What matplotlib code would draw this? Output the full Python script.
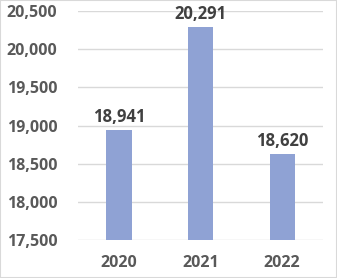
import matplotlib.pyplot as plt
from matplotlib.patches import Rectangle

years = ["2020", "2021", "2022"]
values = [18941, 20291, 18620]
y_ticks = [17500, 18000, 18500, 19000, 19500, 20000, 20500]

BAR_COLOR = "#8FA2D4"
GRID_COLOR = "#D9D9D9"
TICK_COLOR = "#595959"
LABEL_COLOR = "#404040"

plt.rcParams["font.family"] = ["Open Sans", "DejaVu Sans"]

fig = plt.figure(figsize=(3.37, 2.78), dpi=100)
ax = fig.add_axes([0.2315, 0.137, 0.727, 0.823])

x = range(len(years))
ax.bar(x, values, width=0.31, color=BAR_COLOR, zorder=2)
for xi, v in zip(x, values):
    ax.annotate(f"{v:,}", (xi, v), xytext=(0, 3), textcoords="offset points",
                ha="center", va="bottom", fontsize=12, fontweight="bold",
                color=LABEL_COLOR)

ax.set_xlim(-0.5, 2.5)
ax.set_ylim(17500, 20500)
ax.set_yticks(y_ticks)
ax.set_yticklabels([f"{t:,}" for t in y_ticks])
ax.set_xticks(list(x))
ax.set_xticklabels(years)
ax.tick_params(axis="both", length=0, labelsize=11.5, labelcolor=TICK_COLOR)
ax.tick_params(axis="x", pad=11)
ax.tick_params(axis="y", pad=15)
for lbl in ax.get_xticklabels() + ax.get_yticklabels():
    lbl.set_fontweight("bold")
ax.grid(axis="y", color=GRID_COLOR, linewidth=1, zorder=0)
for s in ax.spines.values():
    s.set_visible(False)

fig.patches.append(Rectangle((0, 0), 1, 1, transform=fig.transFigure,
                             fill=False, edgecolor=GRID_COLOR, linewidth=1.5))

fig.savefig("out.png", dpi=100)
